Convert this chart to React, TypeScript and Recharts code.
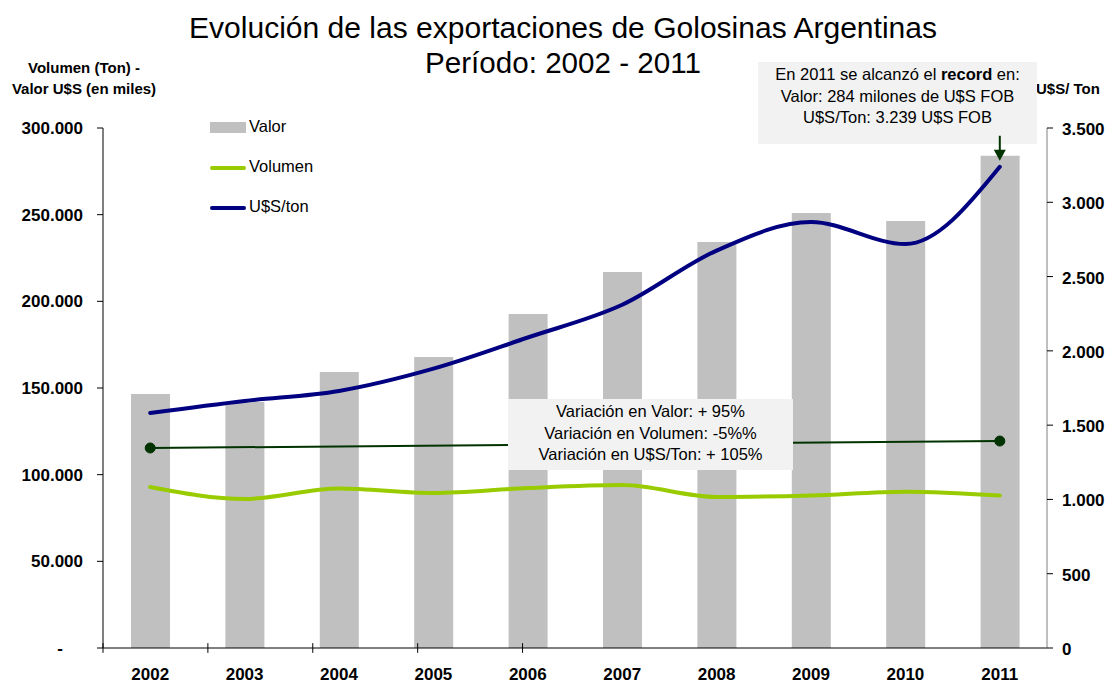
import React from 'react';
import {
  ComposedChart,
  Bar,
  Line,
  XAxis,
  YAxis,
  ReferenceLine,
  ReferenceDot,
} from 'recharts';

const years = ['2002', '2003', '2004', '2005', '2006', '2007', '2008', '2009', '2010', '2011'];
const valor = [146500, 141900, 159200, 167900, 192700, 216900, 234200, 251000, 246300, 284000];
const volumen = [92900, 86000, 92000, 89400, 92300, 94000, 87100, 88000, 90200, 88000];
const usdTon = [1582, 1663, 1730, 1880, 2090, 2310, 2675, 2867, 2719, 3239];
const tendencia = [115400, null, null, null, null, null, null, null, null, 119400];
const leftTicks = [0, 50000, 100000, 150000, 200000, 250000, 300000];
const rightTicks = [0, 500, 1000, 1500, 2000, 2500, 3000, 3500];
const xMarks = [0, 1, 2, 3, 4];

const data = years.map((y, i) => ({
  year: y,
  valor: valor[i],
  volumen: volumen[i],
  usd: usdTon[i],
  tend: tendencia[i],
}));

const fmt = (v: number) => String(v).replace(/\B(?=(\d{3})+(?!\d))/g, '.');
const FONT = 'Arial, "Liberation Sans", sans-serif';

const LeftTick = (props: any) => {
  const { x, y, payload } = props;
  const zero = payload.value === 0;
  return (
    <text
      x={zero ? x - 20 : x}
      y={y}
      dy={6}
      textAnchor="end"
      fontFamily={FONT}
      fontWeight="bold"
      fontSize={17}
      fill="#000"
    >
      {zero ? '-' : fmt(payload.value)}
    </text>
  );
};

// arrow pointing down at the 2011 record
const Arrow = (props: any) => {
  const { cx, cy } = props;
  return (
    <g>
      <line x1={cx} y1={cy - 31} x2={cx} y2={cy - 14} stroke="#003300" strokeWidth={2} />
      <polygon points={`${cx - 6},${cy - 17} ${cx + 6},${cy - 17} ${cx},${cy - 6}`} fill="#003300" />
    </g>
  );
};

const boxStyle: React.CSSProperties = {
  position: 'absolute',
  background: '#f2f2f2',
  fontFamily: FONT,
  fontSize: 16.5,
  lineHeight: '21.5px',
  textAlign: 'center',
  color: '#000',
  boxSizing: 'border-box',
};

export default function App() {
  return (
    <div style={{ position: 'absolute', left: 0, top: 0, width: 1112, height: 684, background: '#fff', fontFamily: FONT }}>
      <svg width={1112} height={90} style={{ position: 'absolute', left: 0, top: 0 }}>
        <text x={563} y={38} textAnchor="middle" fontFamily={FONT} fontSize={29} textLength={748} lengthAdjust="spacingAndGlyphs">
          Evolución de las exportaciones de Golosinas Argentinas
        </text>
        <text x={563} y={73} textAnchor="middle" fontFamily={FONT} fontSize={29} textLength={276} lengthAdjust="spacingAndGlyphs">
          Período: 2002 - 2011
        </text>
      </svg>
      <div style={{ position: 'absolute', left: 0, top: 57, width: 168, textAlign: 'center', fontSize: 15, fontWeight: 'bold', lineHeight: '21px' }}>
        Volumen (Ton) -<br />Valor U$S (en miles)
      </div>
      <div style={{ position: 'absolute', left: 1036, top: 80, fontSize: 15, fontWeight: 'bold' }}>U$S/ Ton</div>

      {/* record box sits under the chart so the arrow is drawn over it */}
      <div style={{ ...boxStyle, left: 758, top: 62, width: 279, height: 82, paddingTop: 2 }}>
        En 2011 se alcanzó el <b>record</b> en:<br />
        Valor: 284 milones de U$S FOB<br />
        U$S/Ton: 3.239 U$S FOB
      </div>

      <div style={{ position: 'absolute', left: 0, top: 0 }}>
        <ComposedChart
          width={1112}
          height={684}
          data={data}
          margin={{ top: 128, right: 0, bottom: 0, left: 0 }}
          barCategoryGap={0}
        >
          <XAxis
            dataKey="year"
            height={36}
            tickLine={false}
            axisLine={{ stroke: '#000', strokeWidth: 1 }}
            tick={{ fontFamily: FONT, fontWeight: 'bold', fontSize: 17, fill: '#000' }}
            tickMargin={14}
            interval={0}
          />
          <XAxis xAxisId="m" type="number" domain={[0, 4]} ticks={xMarks} hide />
          <YAxis
            yAxisId="left"
            width={103}
            domain={[0, 300000]}
            ticks={leftTicks}
            interval={0}
            tick={<LeftTick />}
            tickSize={6}
            tickMargin={14}
            axisLine={{ stroke: '#000' }}
            tickLine={{ stroke: '#000' }}
          />
          <YAxis
            yAxisId="right"
            orientation="right"
            width={65}
            domain={[0, 3500]}
            ticks={rightTicks}
            interval={0}
            tickFormatter={fmt}
            tickSize={6}
            tickMargin={9}
            tick={{ fontFamily: FONT, fontWeight: 'bold', fontSize: 17, fill: '#000', dy: 1 }}
            axisLine={{ stroke: '#808080' }}
            tickLine={{ stroke: '#000' }}
          />
          {xMarks.map((m) => (
            <ReferenceLine
              key={m}
              xAxisId="m"
              yAxisId="left"
              ifOverflow="visible"
              segment={[
                { x: m, y: -2800 },
                { x: m, y: 2800 },
              ]}
              stroke="#000"
              strokeWidth={1}
            />
          ))}
          <Bar yAxisId="left" dataKey="valor" fill="#c0c0c0" barSize={39} isAnimationActive={false} />
          <Line
            yAxisId="left"
            type="linear"
            dataKey="tend"
            stroke="#003300"
            strokeWidth={2}
            connectNulls
            dot={{ r: 5, fill: '#003300', stroke: '#003300', strokeWidth: 1 }}
            isAnimationActive={false}
          />
          <Line
            yAxisId="left"
            type="monotone"
            dataKey="volumen"
            stroke="#99cc00"
            strokeWidth={4}
            strokeLinecap="round"
            dot={false}
            isAnimationActive={false}
          />
          <Line
            yAxisId="right"
            type="monotone"
            dataKey="usd"
            stroke="#000080"
            strokeWidth={4}
            strokeLinecap="round"
            dot={false}
            isAnimationActive={false}
          />
          <ReferenceDot yAxisId="right" x="2011" y={3239} shape={<Arrow />} ifOverflow="visible" />
        </ComposedChart>
      </div>

      {/* legend */}
      <div style={{ position: 'absolute', left: 210, top: 117, fontSize: 16.5 }}>
        <div style={{ position: 'relative', height: 40 }}>
          <div style={{ position: 'absolute', left: 0, top: 5, width: 36, height: 11, background: '#c0c0c0' }} />
          <span style={{ position: 'absolute', left: 39, top: 0 }}>Valor</span>
        </div>
        <div style={{ position: 'relative', height: 40 }}>
          <div style={{ position: 'absolute', left: 0, top: 9, width: 36, height: 4, borderRadius: 2, background: '#99cc00' }} />
          <span style={{ position: 'absolute', left: 39, top: 0 }}>Volumen</span>
        </div>
        <div style={{ position: 'relative', height: 40 }}>
          <div style={{ position: 'absolute', left: 0, top: 9, width: 36, height: 4, borderRadius: 2, background: '#000080' }} />
          <span style={{ position: 'absolute', left: 39, top: 0 }}>U$S/ton</span>
        </div>
      </div>

      {/* variation box covers the bars and the trend line */}
      <div style={{ ...boxStyle, left: 508, top: 399, width: 285, height: 71, paddingTop: 2 }}>
        Variación en Valor: + 95%<br />
        Variación en Volumen: -5%%<br />
        Variación en U$S/Ton: + 105%
      </div>
    </div>
  );
}
